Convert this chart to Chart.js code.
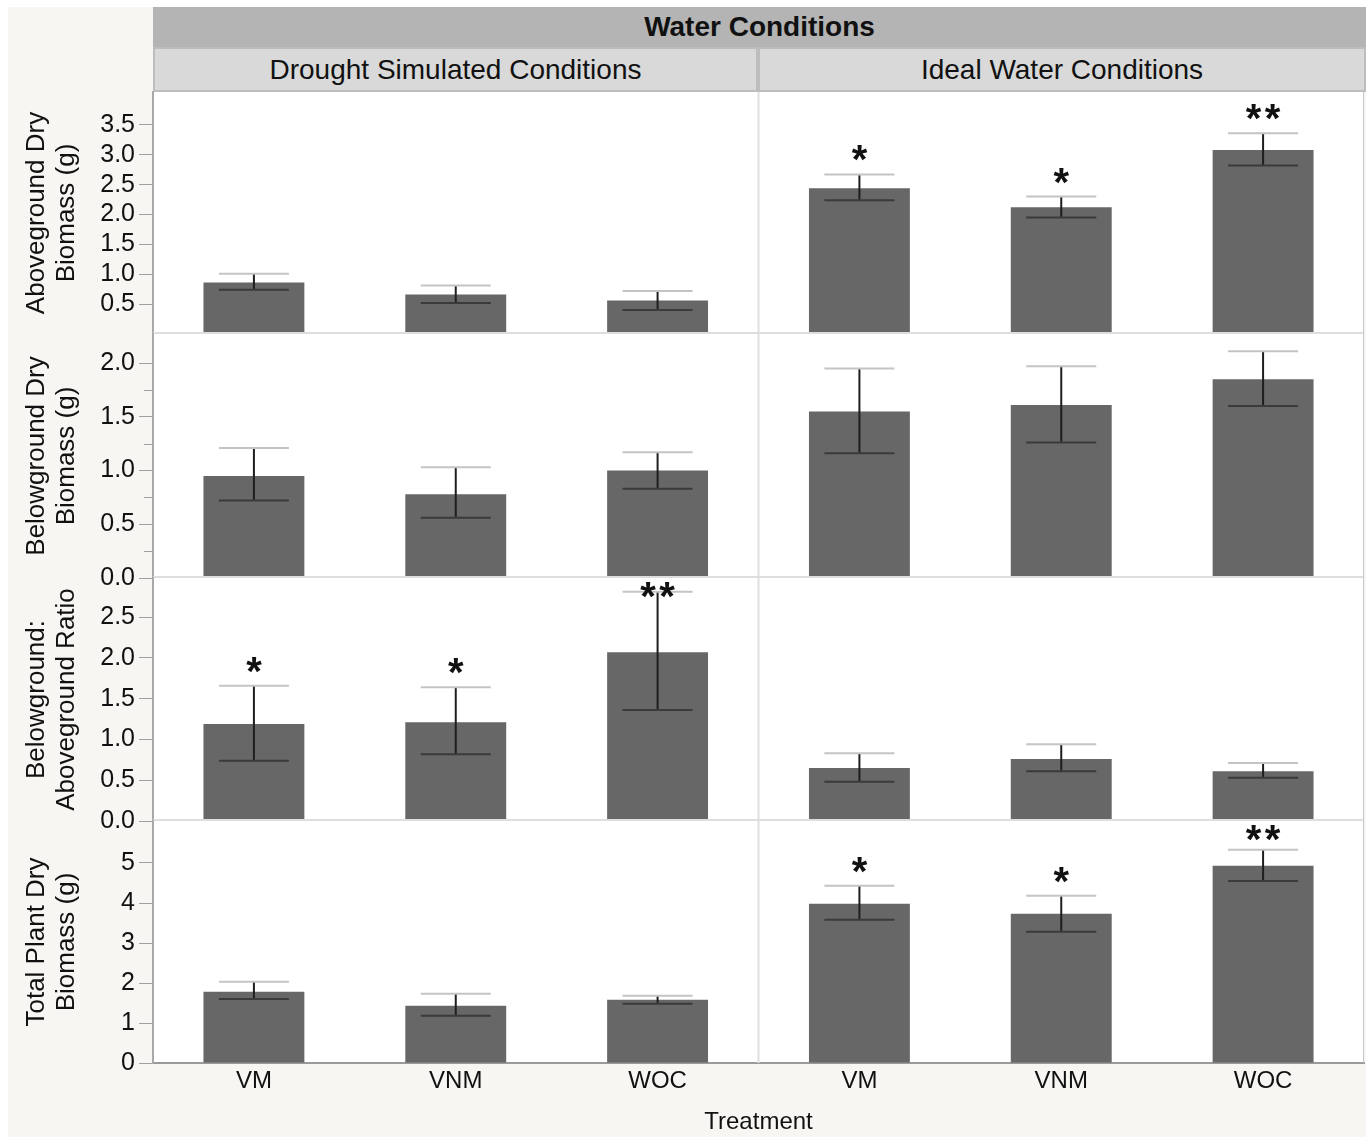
<!DOCTYPE html>
<html>
<head>
<meta charset="utf-8">
<script src="https://cdn.jsdelivr.net/npm/chart.js@4.4.1/dist/chart.umd.min.js"></script>
<style>
  body { margin: 0; background: #fff; font-family: "Liberation Sans", Arial, sans-serif; }
  #fig { position: absolute; left: 8px; top: 7px; width: 1358px; height: 1130px; background: #f7f6f2; }
  .hdr { position: absolute; text-align: center; color: #111; }
  canvas { position: absolute; left: 0; }
</style>
</head>
<body>
<div id="fig"></div>
<div class="hdr" style="left:153px;top:7px;width:1213px;height:40px;line-height:40px;background:#b4b4b4;font-weight:bold;font-size:28px;">Water Conditions</div>
<div class="hdr" style="left:153px;top:47px;width:1213px;height:45px;background:#bdbdbd;"></div>
<div class="hdr" style="left:155px;top:49px;width:601px;height:41px;line-height:41px;background:#d9d9d9;font-size:28px;">Drought Simulated Conditions</div>
<div class="hdr" style="left:760px;top:49px;width:604px;height:41px;line-height:41px;background:#d9d9d9;font-size:28px;">Ideal Water Conditions</div>
<canvas id="row1"></canvas>
<canvas id="row2"></canvas>
<canvas id="row3"></canvas>
<canvas id="row4"></canvas>
<script>
// treatments, drought panel first then ideal water panel
const treatments = ['VM', 'VNM', 'WOC', 'VM', 'VNM', 'WOC'];

const aboveMean = [0.86, 0.66, 0.56, 2.44, 2.12, 3.08];
const aboveLow  = [0.74, 0.52, 0.40, 2.24, 1.95, 2.82];
const aboveHigh = [1.01, 0.81, 0.72, 2.67, 2.30, 3.36];
const aboveStars = ['', '', '', '*', '*', '**'];
const aboveTicks = [0.5, 1.0, 1.5, 2.0, 2.5, 3.0, 3.5];

const belowMean = [0.95, 0.78, 1.00, 1.55, 1.61, 1.85];
const belowLow  = [0.72, 0.56, 0.83, 1.16, 1.26, 1.60];
const belowHigh = [1.21, 1.03, 1.17, 1.95, 1.97, 2.11];
const belowStars = ['', '', '', '', '', ''];
const belowTicks = [0.0, 0.5, 1.0, 1.5, 2.0];
const belowMinor = [0.25, 0.75, 1.25, 1.75];

const ratioMean = [1.19, 1.21, 2.07, 0.65, 0.76, 0.61];
const ratioLow  = [0.74, 0.82, 1.36, 0.48, 0.61, 0.53];
const ratioHigh = [1.66, 1.64, 2.81, 0.83, 0.94, 0.71];
const ratioStars = ['*', '*', '**', '', '', ''];
const ratioTicks = [0.0, 0.5, 1.0, 1.5, 2.0, 2.5];

const totalMean = [1.78, 1.43, 1.58, 3.98, 3.73, 4.93];
const totalLow  = [1.60, 1.18, 1.48, 3.58, 3.28, 4.55];
const totalHigh = [2.03, 1.73, 1.68, 4.43, 4.18, 5.33];
const totalStars = ['', '', '', '*', '*', '**'];
const totalTicks = [0, 1, 2, 3, 4, 5];

const FONT = '"Liberation Sans", Arial, sans-serif';
Chart.defaults.font.family = FONT;
Chart.defaults.color = '#111';

var rows = [
  { id: 'row1', top: 92, bottom: 334, max: 4.05, dec: 1, title: ['Aboveground Dry', 'Biomass (g)'],
    mean: aboveMean, low: aboveLow, high: aboveHigh, stars: aboveStars, ticks: aboveTicks, minor: [] },
  { id: 'row2', top: 334, bottom: 578, max: 2.27, dec: 1, title: ['Belowground Dry', 'Biomass (g)'],
    mean: belowMean, low: belowLow, high: belowHigh, stars: belowStars, ticks: belowTicks, minor: belowMinor },
  { id: 'row3', top: 578, bottom: 821, max: 2.98, dec: 1, title: ['Belowground:', 'Aboveground Ratio'],
    mean: ratioMean, low: ratioLow, high: ratioHigh, stars: ratioStars, ticks: ratioTicks, minor: [] },
  { id: 'row4', top: 821, bottom: 1063, max: 6.05, dec: 0, title: ['Total Plant Dry', 'Biomass (g)'],
    mean: totalMean, low: totalLow, high: totalHigh, stars: totalStars, ticks: totalTicks, minor: [], last: true }
];

var PAD = 14;

function makeRow(r) {
  var canvas = document.getElementById(r.id);
  var top = r.top - PAD;
  var height = r.last ? 1137 - top : (r.bottom - r.top) + 2 * PAD;
  canvas.width = 1366;
  canvas.height = height;
  canvas.style.top = top + 'px';

  // white panel, error bars, asterisks and panel lines
  var panelPlugin = {
    id: 'panel_' + r.id,
    beforeDraw: function(chart) {
      var a = chart.chartArea, ctx = chart.ctx;
      ctx.save();
      ctx.fillStyle = '#fff';
      ctx.fillRect(a.left, a.top, a.right - a.left, a.bottom - a.top);
      ctx.restore();
    },
    afterDatasetsDraw: function(chart) {
      var a = chart.chartArea, ctx = chart.ctx;
      var xs = chart.scales.x, ys = chart.scales.y;
      ctx.save();
      // divider between the two water conditions
      var mid = (xs.getPixelForValue(2) + xs.getPixelForValue(3)) / 2;
      ctx.strokeStyle = '#dedede';
      ctx.lineWidth = 2;
      ctx.beginPath();
      ctx.moveTo(mid, a.top); ctx.lineTo(mid, a.bottom);
      ctx.stroke();
      if (!r.last) {
        ctx.beginPath();
        ctx.moveTo(a.left, a.bottom - 1); ctx.lineTo(a.right, a.bottom - 1);
        ctx.stroke();
      }
      ctx.strokeStyle = '#c8c8c8';
      ctx.lineWidth = 1;
      ctx.beginPath();
      ctx.moveTo(a.right - 0.5, a.top); ctx.lineTo(a.right - 0.5, a.bottom);
      ctx.stroke();

      // minor ticks
      ctx.strokeStyle = '#a0a0a0';
      r.minor.forEach(function(v) {
        var y = Math.round(ys.getPixelForValue(v)) + 0.5;
        ctx.beginPath();
        ctx.moveTo(a.left - 9, y); ctx.lineTo(a.left - 1, y);
        ctx.stroke();
      });

      ctx.beginPath();
      ctx.rect(a.left, a.top, a.right - a.left, a.bottom - a.top);
      ctx.clip();
      var half = 35;
      for (var i = 0; i < r.mean.length; i++) {
        var x = xs.getPixelForValue(i);
        var yHi = ys.getPixelForValue(r.high[i]);
        var yLo = ys.getPixelForValue(r.low[i]);
        ctx.lineWidth = 2;
        ctx.strokeStyle = '#1e1e1e';
        ctx.beginPath();
        ctx.moveTo(x, yLo); ctx.lineTo(x, yHi);
        ctx.stroke();
        ctx.strokeStyle = '#c4c4c4';
        ctx.beginPath();
        ctx.moveTo(x - half, yHi); ctx.lineTo(x + half, yHi);
        ctx.stroke();
        ctx.strokeStyle = '#3a3a3a';
        ctx.beginPath();
        ctx.moveTo(x - half, yLo); ctx.lineTo(x + half, yLo);
        ctx.stroke();

        var n = r.stars[i].length;
        if (n) {
          var sy = Math.max(yHi - 24, a.top + 9);
          ctx.fillStyle = '#111';
          ctx.font = 'bold 40px ' + FONT;
          ctx.textAlign = 'center';
          ctx.textBaseline = 'alphabetic';
          for (var k = 0; k < n; k++) {
            ctx.fillText('*', x + (k - (n - 1) / 2) * 19, sy + 23);
          }
        }
      }
      ctx.restore();
    }
  };

  return new Chart(canvas.getContext('2d'), {
    type: 'bar',
    data: {
      labels: treatments,
      datasets: [{
        data: r.mean,
        backgroundColor: '#676767',
        borderWidth: 0,
        barPercentage: 0.5,
        categoryPercentage: 1.0
      }]
    },
    options: {
      responsive: false,
      animation: false,
      layout: { padding: { top: PAD, bottom: r.last ? 0 : PAD, left: 0, right: 2 } },
      plugins: { legend: { display: false }, tooltip: { enabled: false } },
      scales: {
        x: {
          display: !!r.last,
          offset: true,
          grid: { display: false, drawTicks: false },
          border: { color: '#9a9a9a', width: 2 },
          ticks: { font: { size: 24 }, color: '#111', padding: 4, maxRotation: 0, autoSkip: false },
          title: { display: true, text: 'Treatment', font: { size: 24 }, color: '#111', padding: { top: 0, bottom: 0 } },
          afterFit: function(s) {
            if (r.last) s.height = 74;
            s.paddingLeft = 0; s.paddingRight = 0;
          }
        },
        y: {
          min: 0,
          max: r.max,
          afterBuildTicks: function(s) { s.ticks = r.ticks.map(function(v) { return { value: v }; }); },
          afterFit: function(s) { s.width = 153; s.paddingTop = 0; s.paddingBottom = 0; },
          ticks: {
            font: { size: 25 }, color: '#111', padding: 4, autoSkip: false,
            callback: function(v) { return Number(v).toFixed(r.dec); }
          },
          grid: { drawOnChartArea: false, tickLength: 14, color: '#a0a0a0' },
          border: { color: '#a8a8a8', width: 2 },
          title: {
            display: true, text: r.title, color: '#111',
            font: { size: 26, lineHeight: 1.15 },
            padding: { top: 22, bottom: 0 }
          }
        }
      }
    },
    plugins: [panelPlugin]
  });
}

rows.forEach(makeRow);
</script>
</body>
</html>
